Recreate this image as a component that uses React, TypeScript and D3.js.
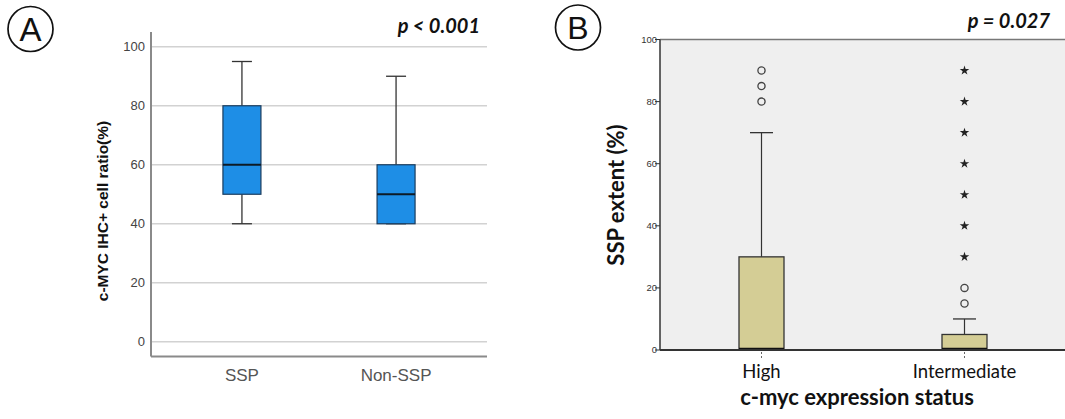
import * as d3 from "d3"

// panel A: c-MYC IHC+ ratio by SSP status
const aCategories = ["SSP", "Non-SSP"]
const aMin = [40, 40]
const aQ1 = [50, 40]
const aMedian = [60, 50]
const aQ3 = [80, 60]
const aMax = [95, 90]
const aTicks = [0, 20, 40, 60, 80, 100]

// panel B: SSP extent by c-myc expression
const bCategories = ["High", "Intermediate"]
const bMin = [0, 0]
const bQ1 = [0, 0]
const bMedian = [0, 0]
const bQ3 = [30, 5]
const bMax = [70, 10]
const bOutliers = [[90, 85, 80], [20, 15]]
const bExtremes = [[], [90, 80, 70, 60, 50, 40, 30]]
const bTicks = [0, 20, 40, 60, 80, 100]

const W = 1065
const H = 419

const PanelA = () => {
  const left = 151
  const right = 487
  const x = d3.scalePoint().domain(aCategories).range([left, right]).padding(0.59)
  const y = d3.scaleLinear().domain([-5, 105]).range([356.5, 32])
  const boxW = 38
  const capW = 20

  return (
    <g>
      {/* label circle */}
      <circle cx={30.5} cy={29} r={22.5} fill="none" stroke="#111" strokeWidth={1.7} />
      <text x={30.5} y={41} textAnchor="middle" fontFamily="Liberation Sans, Arial" fontSize={33} fill="#111">A</text>

      <text x={480} y={33} textAnchor="end" fontFamily="Lato" fontStyle="italic" fontWeight="bold" fontSize={20} fill="#111">p &lt; 0.001</text>

      {/* grid */}
      {aTicks.map((t) => (
        <g key={t}>
          <line x1={left} x2={right} y1={y(t)} y2={y(t)} stroke="#d2d2d2" strokeWidth={1.5} />
          <text x={145} y={y(t)} dy="0.35em" textAnchor="end" fontFamily="Liberation Sans, Arial" fontSize={13} fill="#444">{t}</text>
        </g>
      ))}
      <line x1={left} x2={left} y1={y(105)} y2={y(-5)} stroke="#8a8a8a" strokeWidth={2} />
      <line x1={left} x2={right} y1={y(-5)} y2={y(-5)} stroke="#8a8a8a" strokeWidth={2} />

      <text transform={`translate(108, 211) rotate(-90)`} textAnchor="middle" fontFamily="Liberation Sans, Arial" fontWeight="bold" fontSize={15.5} fill="#111">c-MYC IHC+ cell ratio(%)</text>

      {aCategories.map((c, i) => {
        const cx = x(c) as number
        return (
          <g key={c}>
            <line x1={cx} x2={cx} y1={y(aMax[i])} y2={y(aQ3[i])} stroke="#333" strokeWidth={1.3} />
            <line x1={cx} x2={cx} y1={y(aQ1[i])} y2={y(aMin[i])} stroke="#333" strokeWidth={1.3} />
            <line x1={cx - capW / 2} x2={cx + capW / 2} y1={y(aMax[i])} y2={y(aMax[i])} stroke="#333" strokeWidth={1.3} />
            <line x1={cx - capW / 2} x2={cx + capW / 2} y1={y(aMin[i])} y2={y(aMin[i])} stroke="#333" strokeWidth={1.3} />
            <rect x={cx - boxW / 2} y={y(aQ3[i])} width={boxW} height={y(aQ1[i]) - y(aQ3[i])} fill="#1e8ee6" stroke="#1b3d5e" strokeWidth={1.2} />
            <line x1={cx - boxW / 2} x2={cx + boxW / 2} y1={y(aMedian[i])} y2={y(aMedian[i])} stroke="#0d1a26" strokeWidth={2.2} />
            <text x={cx} y={381} textAnchor="middle" fontFamily="Liberation Sans, Arial" fontSize={17} fill="#555">{c}</text>
          </g>
        )
      })}
    </g>
  )
}

const PanelB = () => {
  const left = 660
  const top = 39.5
  const bottom = 350
  const x = d3.scalePoint().domain(bCategories).range([left, W + 1]).padding(0.5)
  const y = d3.scaleLinear().domain([0, 100]).range([bottom, top])
  const boxW = 45
  const capW = 23
  const star = d3.symbol().type(d3.symbolStar).size(28)

  return (
    <g>
      <circle cx={578} cy={27.5} r={22.5} fill="none" stroke="#111" strokeWidth={1.7} />
      <text x={578} y={39} textAnchor="middle" fontFamily="Liberation Sans, Arial" fontSize={32} fill="#111">B</text>

      <text x={1050} y={28} textAnchor="end" fontFamily="Lato" fontStyle="italic" fontWeight="bold" fontSize={20} fill="#111">p = 0.027</text>

      <rect x={left} y={top} width={W - left} height={bottom - top} fill="#efefef" />
      <line x1={left} x2={W} y1={top} y2={top} stroke="#777" strokeWidth={1.3} />

      {bTicks.map((t) => (
        <g key={t}>
          <line x1={left - 5} x2={left} y1={y(t)} y2={y(t)} stroke="#333" strokeWidth={1} />
          <text x={657} y={y(t)} dy="0.35em" textAnchor="end" fontFamily="Liberation Sans, Arial" fontSize={9.5} fill="#333">{t}</text>
        </g>
      ))}
      <line x1={left} x2={left} y1={top} y2={bottom} stroke="#333" strokeWidth={1.5} />

      <text transform={`translate(624, 195) rotate(-90)`} textAnchor="middle" fontFamily="Lato" fontWeight="bold" fontSize={22} fill="#111">SSP extent (%)</text>

      {bCategories.map((c, i) => {
        const cx = x(c) as number
        return (
          <g key={c}>
            <line x1={cx} x2={cx} y1={bottom + 2} y2={bottom + 8} stroke="#666" strokeWidth={1} strokeDasharray="2,2" />
            <line x1={cx} x2={cx} y1={y(bMax[i])} y2={y(bQ3[i])} stroke="#333" strokeWidth={1.2} />
            <line x1={cx - capW / 2} x2={cx + capW / 2} y1={y(bMax[i])} y2={y(bMax[i])} stroke="#333" strokeWidth={1.3} />
            {bMin[i] < bQ1[i] && (
              <line x1={cx} x2={cx} y1={y(bQ1[i])} y2={y(bMin[i])} stroke="#333" strokeWidth={1.2} />
            )}
            <rect x={cx - boxW / 2} y={y(bQ3[i])} width={boxW} height={y(bQ1[i]) - y(bQ3[i])} fill="#d4cd95" stroke="#333" strokeWidth={1.3} />
            <line x1={cx - boxW / 2} x2={cx + boxW / 2} y1={y(bMedian[i]) - 1} y2={y(bMedian[i]) - 1} stroke="#111" strokeWidth={2.5} />
            {bOutliers[i].map((v) => (
              <circle key={v} cx={cx} cy={y(v)} r={3.6} fill="none" stroke="#444" strokeWidth={1.3} />
            ))}
            {bExtremes[i].map((v) => (
              <path key={v} d={star() as string} transform={`translate(${cx}, ${y(v)})`} fill="#222" />
            ))}
            <text x={cx} y={378} textAnchor="middle" fontFamily="Lato" fontSize={18.5} fill="#111">{c}</text>
          </g>
        )
      })}
      <line x1={left} x2={W} y1={bottom} y2={bottom} stroke="#333" strokeWidth={1.8} />

      <text x={857} y={405} textAnchor="middle" fontFamily="Lato" fontWeight="bold" fontSize={22} fill="#111">c-myc expression status</text>
    </g>
  )
}

export default function App() {
  return (
    <svg width={W} height={H} style={{ position: "absolute", left: 0, top: 0, background: "#fff" }}>
      <PanelA />
      <PanelB />
    </svg>
  )
}
